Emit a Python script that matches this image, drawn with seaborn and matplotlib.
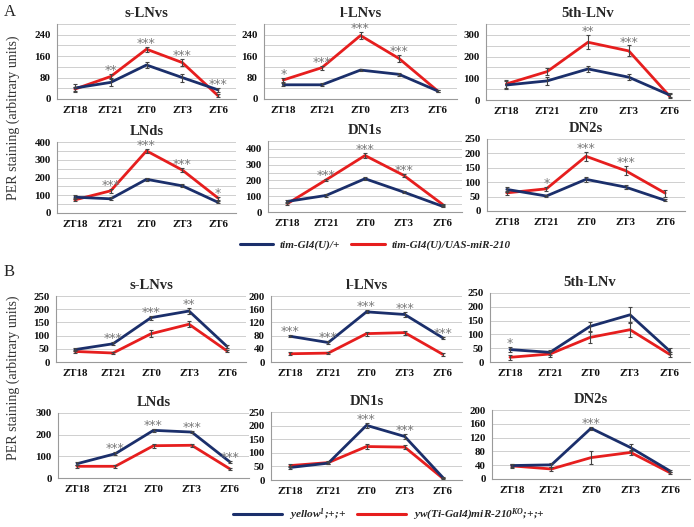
import matplotlib
matplotlib.use("Agg")
import matplotlib.pyplot as plt
import seaborn as sns
import pandas as pd
import numpy as np
from matplotlib.lines import Line2D
from matplotlib.ticker import MultipleLocator
from matplotlib.font_manager import FontProperties

sns.set_theme(style="white")
plt.rcParams['font.family'] = ['Liberation Serif', 'DejaVu Serif']
plt.rcParams['mathtext.fontset'] = 'custom'
plt.rcParams['mathtext.rm'] = 'Liberation Serif:italic:bold'
plt.rcParams['mathtext.it'] = 'Liberation Serif:italic:bold'
plt.rcParams['mathtext.bf'] = 'Liberation Serif:bold'

categories = ["ZT18", "ZT21", "ZT0", "ZT3", "ZT6"]
titles = ["s-LNvs", "l-LNvs", "5th-LNv", "LNds", "DN1s", "DN2s"]

legend_A = ["tim-Gl4(U)/+", "tim-Gl4(U)/UAS-miR-210"]
legend_B = [r"yellow$^{1}$;+;+", r"yw(Ti-Gal4)miR-210$^{KO}$;+;+"]

# ---- Panel A (control = blue, experimental = red) ----
A_sLNvs_ctrl = [41, 62, 127, 80, 34]
A_sLNvs_exp = [37, 84, 186, 136, 12]
A_sLNvs_ctrl_err = [15, 15, 12, 15, 8]
A_sLNvs_exp_err = [8, 8, 10, 12, 5]
A_sLNvs_stars = ["", "**", "***", "***", "***"]

A_lLNvs_ctrl = [53, 53, 108, 92, 30]
A_lLNvs_exp = [71, 117, 237, 151, 30]
A_lLNvs_ctrl_err = [5, 5, 5, 5, 3]
A_lLNvs_exp_err = [8, 8, 12, 14, 3]
A_lLNvs_stars = ["*", "***", "***", "***", ""]

A_5th_ctrl = [69, 88, 143, 105, 23]
A_5th_exp = [74, 131, 266, 226, 18]
A_5th_ctrl_err = [20, 20, 12, 15, 8]
A_5th_exp_err = [20, 18, 32, 25, 8]
A_5th_stars = ["", "", "**", "***", ""]

A_LNds_ctrl = [89, 80, 190, 153, 60]
A_LNds_exp = [74, 125, 350, 242, 84]
A_LNds_ctrl_err = [10, 8, 8, 8, 5]
A_LNds_exp_err = [8, 10, 12, 12, 8]
A_LNds_stars = ["", "***", "***", "***", "*"]

A_DN1s_ctrl = [67, 105, 211, 126, 36]
A_DN1s_exp = [53, 204, 358, 232, 48]
A_DN1s_ctrl_err = [8, 8, 8, 8, 5]
A_DN1s_exp_err = [8, 8, 15, 12, 5]
A_DN1s_stars = ["", "***", "***", "***", ""]

A_DN2s_ctrl = [75, 52, 110, 83, 37]
A_DN2s_exp = [63, 77, 190, 140, 62]
A_DN2s_ctrl_err = [10, 5, 8, 6, 4]
A_DN2s_exp_err = [8, 8, 15, 15, 12]
A_DN2s_stars = ["", "*", "***", "***", ""]

# ---- Panel B ----
B_sLNvs_ctrl = [47, 69, 168, 193, 59]
B_sLNvs_exp = [40, 34, 107, 143, 42]
B_sLNvs_ctrl_err = [5, 5, 8, 12, 5]
B_sLNvs_exp_err = [5, 5, 14, 12, 5]
B_sLNvs_stars = ["", "***", "***", "**", ""]

B_lLNvs_ctrl = [78, 59, 152, 144, 73]
B_lLNvs_exp = [25, 27, 86, 89, 23]
B_lLNvs_ctrl_err = [3, 4, 5, 7, 4]
B_lLNvs_exp_err = [4, 4, 6, 6, 4]
B_lLNvs_stars = ["***", "***", "***", "***", "***"]

B_5th_ctrl = [45, 35, 129, 171, 39]
B_5th_exp = [17, 29, 89, 117, 27]
B_5th_ctrl_err = [10, 10, 15, 28, 10]
B_5th_exp_err = [10, 10, 20, 28, 10]
B_5th_stars = ["*", "", "", "", ""]

B_LNds_ctrl = [66, 112, 220, 212, 74]
B_LNds_exp = [54, 54, 149, 151, 42]
B_LNds_ctrl_err = [6, 6, 8, 6, 5]
B_LNds_exp_err = [6, 6, 10, 8, 5]
B_LNds_stars = ["", "***", "***", "***", "***"]

B_DN1s_ctrl = [46, 62, 201, 160, 9]
B_DN1s_exp = [53, 64, 123, 121, 6]
B_DN1s_ctrl_err = [5, 5, 8, 8, 2]
B_DN1s_exp_err = [5, 5, 8, 8, 2]
B_DN1s_stars = ["", "", "***", "***", ""]

B_DN2s_ctrl = [39, 41, 147, 91, 23]
B_DN2s_exp = [38, 29, 62, 77, 18]
B_DN2s_ctrl_err = [5, 5, 5, 10, 3]
B_DN2s_exp_err = [5, 5, 18, 8, 3]
B_DN2s_stars = ["", "", "***", "", ""]

BLUE = "#1b2f6b"
RED = "#e61e1e"
W, H = 694, 527

fig = plt.figure(figsize=(W / 100, H / 100), dpi=100)

# (title, ctrl, exp, ctrl_err, exp_err, stars, ymax, major, minor, box(left,right,top,bottom px), legend labels)
panels = [
    (titles[0], A_sLNvs_ctrl, A_sLNvs_exp, A_sLNvs_ctrl_err, A_sLNvs_exp_err, A_sLNvs_stars, 280, 80, 40, (57, 236, 24, 99), legend_A),
    (titles[1], A_lLNvs_ctrl, A_lLNvs_exp, A_lLNvs_ctrl_err, A_lLNvs_exp_err, A_lLNvs_stars, 280, 80, 40, (264, 457, 24, 99), legend_A),
    (titles[2], A_5th_ctrl, A_5th_exp, A_5th_ctrl_err, A_5th_exp_err, A_5th_stars, 350, 100, 50, (486, 690, 24, 100), legend_A),
    (titles[3], A_LNds_ctrl, A_LNds_exp, A_LNds_ctrl_err, A_LNds_exp_err, A_LNds_stars, 400, 100, 50, (57, 236, 142, 213), legend_A),
    (titles[4], A_DN1s_ctrl, A_DN1s_exp, A_DN1s_ctrl_err, A_DN1s_exp_err, A_DN1s_stars, 450, 100, 50, (268, 462, 141, 212), legend_A),
    (titles[5], A_DN2s_ctrl, A_DN2s_exp, A_DN2s_ctrl_err, A_DN2s_exp_err, A_DN2s_stars, 250, 50, 50, (487, 685, 139, 211), legend_A),
    (titles[0], B_sLNvs_ctrl, B_sLNvs_exp, B_sLNvs_ctrl_err, B_sLNvs_exp_err, B_sLNvs_stars, 250, 50, 50, (56, 246, 296, 362), legend_B),
    (titles[1], B_lLNvs_ctrl, B_lLNvs_exp, B_lLNvs_ctrl_err, B_lLNvs_exp_err, B_lLNvs_stars, 200, 40, 40, (271, 462, 296, 362), legend_B),
    (titles[2], B_5th_ctrl, B_5th_exp, B_5th_ctrl_err, B_5th_exp_err, B_5th_stars, 250, 50, 50, (490, 690, 293, 362), legend_B),
    (titles[3], B_LNds_ctrl, B_LNds_exp, B_LNds_ctrl_err, B_LNds_exp_err, B_LNds_stars, 300, 100, 100, (58, 249, 413, 478), legend_B),
    (titles[4], B_DN1s_ctrl, B_DN1s_exp, B_DN1s_ctrl_err, B_DN1s_exp_err, B_DN1s_stars, 250, 50, 50, (271, 462, 412, 480), legend_B),
    (titles[5], B_DN2s_ctrl, B_DN2s_exp, B_DN2s_ctrl_err, B_DN2s_exp_err, B_DN2s_stars, 200, 40, 40, (492, 690, 410, 479), legend_B),
]

for (title, ctrl, exp, cerr, eerr, stars, ymax, major, minor, box, labels) in panels:
    l, r, t, b = box
    ax = fig.add_axes([l / W, 1 - b / H, (r - l) / W, (b - t) / H])
    df = pd.DataFrame({
        "pos": list(range(len(categories))) * 2,
        "value": list(ctrl) + list(exp),
        "genotype": [labels[0]] * len(ctrl) + [labels[1]] * len(exp),
    })
    sns.lineplot(data=df, x="pos", y="value", hue="genotype",
                 palette={labels[0]: BLUE, labels[1]: RED},
                 hue_order=[labels[1], labels[0]],
                 linewidth=2.0, ax=ax, legend=False, errorbar=None)
    x = np.arange(len(categories))
    ax.errorbar(x, ctrl, yerr=cerr, fmt="none", ecolor="#444444", elinewidth=0.8, capsize=1.5, capthick=0.8, zorder=5)
    ax.errorbar(x, exp, yerr=eerr, fmt="none", ecolor="#444444", elinewidth=0.8, capsize=1.5, capthick=0.8, zorder=5)
    for i, s in enumerate(stars):
        if s:
            top = max(ctrl[i] + cerr[i], exp[i] + eerr[i])
            ax.annotate(s, (i, top), xytext=(0, 2.5), textcoords="offset points",
                        ha="center", va="center", fontsize=9, color="#7a7a7a",
                        family="DejaVu Sans", annotation_clip=False)
    ax.set_xlim(-0.5, len(categories) - 0.5)
    ax.set_ylim(0, ymax)
    ax.set_xticks(x)
    ax.set_xticklabels(categories, fontsize=7.8, fontweight="bold", color="#111111")
    ax.yaxis.set_major_locator(MultipleLocator(major))
    ax.yaxis.set_minor_locator(MultipleLocator(minor))
    ax.tick_params(axis="y", which="major", labelsize=7.8, length=2.5, width=0.6, color="#999999", pad=2)
    ax.tick_params(axis="y", which="minor", length=0)
    ax.tick_params(axis="x", length=0, pad=5)
    for lab in ax.get_yticklabels():
        lab.set_fontweight("bold")
        lab.set_color("#111111")
    ax.grid(axis="y", which="both", color="#cfcfcf", linewidth=0.7)
    ax.set_axisbelow(True)
    for side in ["top", "right"]:
        ax.spines[side].set_visible(False)
    for side in ["left", "bottom"]:
        ax.spines[side].set_color("#9a9a9a")
        ax.spines[side].set_linewidth(0.8)
    ax.set_xlabel("")
    ax.set_ylabel("")
    ax.set_title(title, fontsize=10.5, fontweight="bold", pad=5)

# Y labels
for yc in (118, 378):
    fig.text(13 / W, 1 - yc / H, "PER staining (arbitrary units)", rotation=90,
             ha="center", va="center", fontsize=10, color="#333333")

fig.text(4 / W, 1 - 12 / H, "A", fontsize=12, ha="left", va="center")
fig.text(4 / W, 1 - 272 / H, "B", fontsize=12, ha="left", va="center")

for labels, xc, yc, size, hl in ((legend_A, 375, 245, 8, 3.0), (legend_B, 389, 515, 8.2, 4.3)):
    legprop = FontProperties(family="Liberation Serif", style="italic", weight="bold", size=size)
    handles = [Line2D([0], [0], color=BLUE, lw=2.2), Line2D([0], [0], color=RED, lw=2.2)]
    fig.legend(handles, labels, loc="center", bbox_to_anchor=(xc / W, 1 - yc / H),
               ncol=2, frameon=False, prop=legprop, handlelength=hl,
               columnspacing=1.0, handletextpad=0.6, borderaxespad=0)

fig.savefig("out.png", dpi=100)
